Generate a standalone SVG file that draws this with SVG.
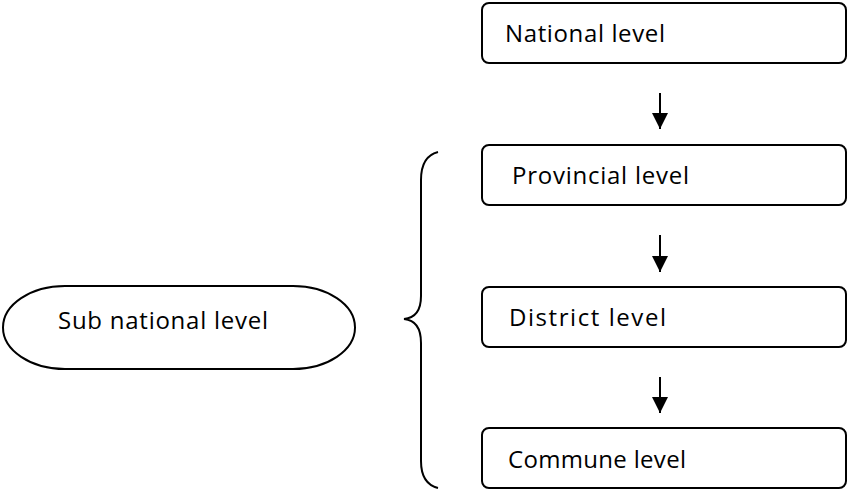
<svg xmlns="http://www.w3.org/2000/svg" width="848" height="489" viewBox="0 0 848 489">
<style>
.box{fill:#fff;stroke:#000;stroke-width:2}
.lbl{font-family:"Open Sans","Liberation Sans",sans-serif;font-size:24px;fill:#000}
.con{stroke:#000;stroke-width:2;fill:none}
</style>
<defs>
<marker id="ah" markerWidth="8" markerHeight="8" refX="8" refY="4" orient="auto" markerUnits="strokeWidth">
<path d="M0,0 L8,4 L0,8 Z" fill="#000"/>
</marker>
</defs>
<rect width="848" height="489" fill="#fff"/>
<g id="national"><rect class="box" x="482" y="3" width="364" height="60" rx="7"/><text class="lbl" x="505" y="42" textLength="160">National level</text></g>
<g id="provincial"><rect class="box" x="482" y="145" width="364" height="60" rx="7"/><text class="lbl" x="512" y="184" textLength="177">Provincial level</text></g>
<g id="district"><rect class="box" x="482" y="287" width="364" height="60" rx="7"/><text class="lbl" x="509" y="326" textLength="157">District level</text></g>
<g id="commune"><rect class="box" x="482" y="428" width="364" height="60" rx="7"/><text class="lbl" x="508" y="468" textLength="178">Commune level</text></g>
<g id="subnational"><rect class="box" x="3" y="286" width="352" height="83" rx="62" ry="41.5"/><text class="lbl" x="58" y="329" textLength="210">Sub national level</text></g>
<g id="connectors">
<line class="con" x1="660" y1="93" x2="660" y2="129" marker-end="url(#ah)"/>
<line class="con" x1="660" y1="235" x2="660" y2="272" marker-end="url(#ah)"/>
<line class="con" x1="660" y1="377" x2="660" y2="413" marker-end="url(#ah)"/>
<path class="con" d="M438,152 C426,155 421,165 421,180 L421,296 C421,311 415,318 404,319 C415,320 421,328 421,343 L421,461 C421,476 426,485 438,488"/>
</g>
</svg>
